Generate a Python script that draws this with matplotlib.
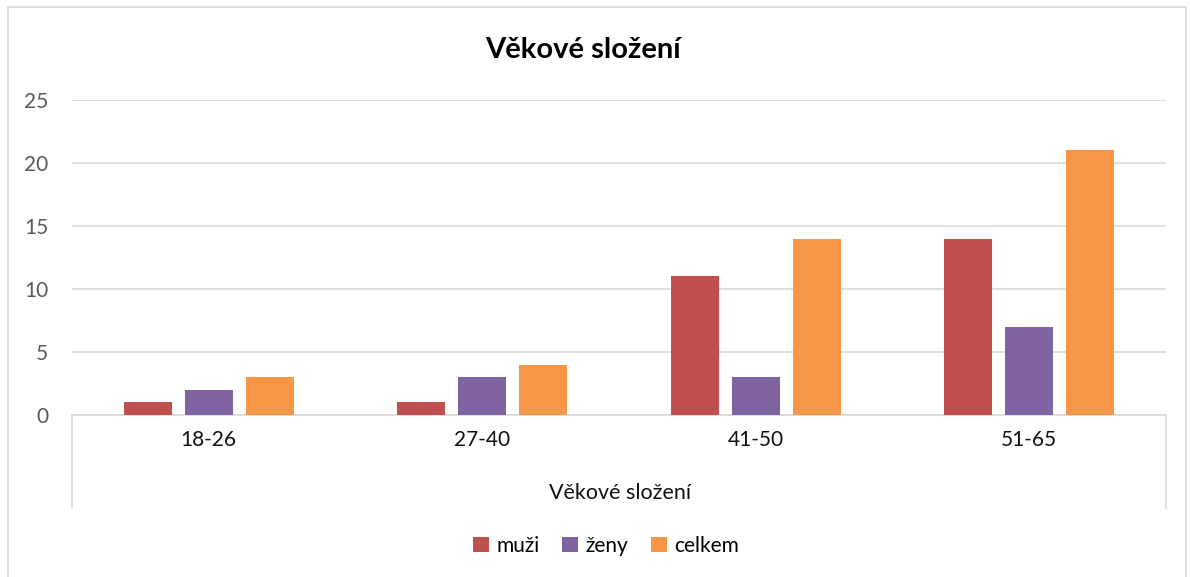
import numpy as np
import matplotlib
matplotlib.use('Agg')
import matplotlib.pyplot as plt
from matplotlib.patches import Rectangle
from matplotlib.lines import Line2D

plt.rcParams['font.family'] = ['Lato', 'DejaVu Sans']

categories = ["18-26", "27-40", "41-50", "51-65"]
muzi   = [1, 1, 11, 14]
zeny   = [2, 3, 3, 7]
celkem = [3, 4, 14, 21]

series = [("muži", muzi, "#C0504D"),
          ("ženy", zeny, "#8064A2"),
          ("celkem", celkem, "#F79646")]

W, H = 1190, 577
fig = plt.figure(figsize=(W / 100, H / 100), dpi=100)
ax = fig.add_axes([72 / W, 1 - 415 / H, (1166 - 72) / W, (415 - 100) / H])

# chart border
fig.patches.append(Rectangle((8 / W, -0.05), (1186 - 8) / W, 1.05 - 7 / H,
                             transform=fig.transFigure, fill=False,
                             edgecolor='#D9D9D9', linewidth=1.2))

x = np.arange(len(categories))
width = 0.1755
step = 0.223
for i, (name, vals, col) in enumerate(series):
    ax.bar(x + (i - 1) * step, vals, width, color=col, label=name, zorder=3)

ax.set_xlim(-0.5, len(categories) - 0.5)
ax.set_ylim(0, 25)
ax.set_yticks(range(0, 26, 5))
ax.grid(True, axis='y', color='#D9D9D9', linewidth=1.2, zorder=0)
for s in ['top', 'right', 'left']:
    ax.spines[s].set_visible(False)
ax.spines['bottom'].set_color('#D9D9D9')
ax.spines['bottom'].set_linewidth(1.2)
ax.tick_params(axis='y', length=0, labelsize=15, labelcolor='#595959', pad=17)
ax.tick_params(axis='x', length=0, labelsize=15, labelcolor='#111111', pad=11)
ax.set_xticks(x)
ax.set_xticklabels(categories)

# group divider lines under the axis
for xv in [0.0, 1.0]:
    ax.add_line(Line2D([xv, xv], [0, -(508 - 415) / 315], transform=ax.transAxes,
                       color='#D9D9D9', linewidth=1.2, clip_on=False))

fig.text(620 / W, 1 - 493 / H, "Věkové složení", ha='center', va='center',
         fontsize=15.5, color='#111111')
fig.text(583 / W, 1 - 50 / H, "Věkové složení", ha='center', va='center',
         fontsize=21, fontweight='bold', color='#000000')

fig.legend(loc='center', bbox_to_anchor=(606 / W, 1 - 546 / H), ncol=3,
           frameon=False, fontsize=15, handlelength=0.75, handleheight=0.75,
           handletextpad=0.35, columnspacing=1.1)

fig.savefig('out.png', dpi=100)
